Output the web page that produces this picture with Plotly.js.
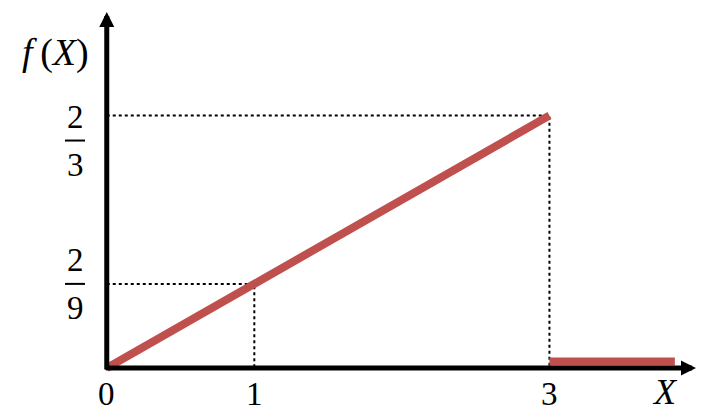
<!DOCTYPE html>
<html>
<head>
<meta charset="utf-8">
<script src="https://cdn.plot.ly/plotly-3.0.1.min.js"></script>
<style>
  html, body { margin: 0; padding: 0; background: #fff; }
  #chart { width: 712px; height: 420px; }
</style>
</head>
<body>
<div id="chart"></div>
<script>
// density f(X): rises linearly on [0,3], zero after
let rampX = [0, 3];
let rampY = [0, 2/3];
let tailX = [3, 3.85];
let tailY = [0, 0];

// dotted guides to the marked points
let guidePtsX = [1, 3];
let guidePtsY = [2/9, 2/3];

let xTickVals = [0, 1, 3];
let xTickText = ['0', '1', '3'];
let yTickVals = [2/3, 2/9];
let yTickNum = ['2', '2'];
let yTickDen = ['3', '9'];

let red = '#C0504D';
let serif = 'Liberation Serif, DejaVu Serif, serif';

let traces = [];

// dotted guides (horizontal from y axis, vertical down to x axis)
guidePtsX.forEach((gx, i) => {
    let gy = guidePtsY[i];
    traces.push({
        type: 'scatter', mode: 'lines',
        x: [0, gx, gx], y: [gy, gy, 0],
        line: {color: '#000', width: 2, dash: 'dot'},
        hoverinfo: 'skip', showlegend: false
    });
});

traces.push({
    type: 'scatter', mode: 'lines',
    x: rampX, y: rampY,
    line: {color: red, width: 8},
    showlegend: false
});

// tail sits on top of the axis line, so it goes on a slightly shifted overlay axis
traces.push({
    type: 'scatter', mode: 'lines',
    x: tailX, y: tailY, yaxis: 'y2',
    line: {color: red, width: 8},
    showlegend: false
});

let yRange = [-0.05, 0.94];
let lift = 0.017;

let annotations = [];

// axes with arrow heads
annotations.push({
    x: 3.993, y: 0, ax: -0.017, ay: 0, xref: 'x', yref: 'y', axref: 'x', ayref: 'y',
    showarrow: true, arrowhead: 2, arrowsize: 0.6, arrowwidth: 5, arrowcolor: '#000',
    standoff: 0, text: ''
});
annotations.push({
    x: 0, y: 0.94, ax: 0, ay: -0.008, xref: 'x', yref: 'y', axref: 'x', ayref: 'y',
    showarrow: true, arrowhead: 2, arrowsize: 0.6, arrowwidth: 5, arrowcolor: '#000',
    standoff: 0, text: ''
});

// x tick labels
xTickVals.forEach((v, i) => {
    annotations.push({
        x: v, y: 0, xref: 'x', yref: 'y', yshift: -26, showarrow: false,
        xanchor: 'center', yanchor: 'middle',
        text: xTickText[i], font: {family: serif, size: 33, color: '#000'}
    });
});

// y tick labels as stacked fractions
let barShift = [-25, 0];
let shapes = [];
yTickVals.forEach((v, i) => {
    annotations.push({
        x: -0.028, y: v, xref: 'paper', yref: 'y', yshift: barShift[i] + 24,
        xanchor: 'center', yanchor: 'middle',
        showarrow: false, text: yTickNum[i], font: {family: serif, size: 33, color: '#000'}
    });
    annotations.push({
        x: -0.028, y: v, xref: 'paper', yref: 'y', yshift: barShift[i] - 24,
        xanchor: 'center', yanchor: 'middle',
        showarrow: false, text: yTickDen[i], font: {family: serif, size: 33, color: '#000'}
    });
    shapes.push({
        type: 'line', xref: 'paper', yref: 'y', ysizemode: 'pixel', yanchor: v,
        x0: -0.0446, x1: -0.0116, y0: barShift[i], y1: barShift[i],
        line: {color: '#000', width: 2}
    });
});

// axis titles
annotations.push({
    x: 3.78, y: 0, xref: 'x', yref: 'y', yshift: -24, showarrow: false,
    xanchor: 'center', yanchor: 'middle',
    text: '<i>X</i>', font: {family: serif, size: 36, color: '#000'}
});
annotations.push({
    x: -0.061, y: 0.893, xref: 'paper', yref: 'paper', showarrow: false,
    xanchor: 'center', yanchor: 'middle',
    text: '<i>f</i>\u2009(<i>X</i>)', font: {family: serif, size: 38, color: '#000'}
});

let layout = {
    width: 712, height: 420,
    margin: {l: 92, r: 15, t: 12, b: 33},
    paper_bgcolor: '#fff', plot_bgcolor: '#fff',
    xaxis: {range: [-0.1, 4.0], showgrid: false, zeroline: false, showticklabels: false, ticks: ''},
    yaxis: {range: yRange, showgrid: false, zeroline: false, showticklabels: false, ticks: ''},
    yaxis2: {range: [yRange[0] - lift, yRange[1] - lift], overlaying: 'y',
             showgrid: false, zeroline: false, showticklabels: false, ticks: ''},
    annotations: annotations,
    shapes: shapes,
    showlegend: false
};

Plotly.newPlot('chart', traces, layout, {staticPlot: true});
</script>
</body>
</html>
